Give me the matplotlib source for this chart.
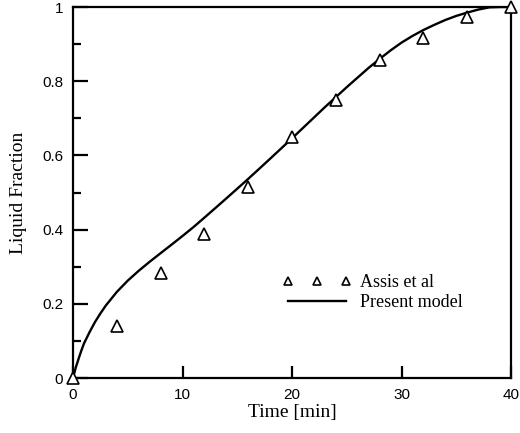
import matplotlib
matplotlib.use("Agg")
import matplotlib.pyplot as plt
from matplotlib.ticker import MultipleLocator, FuncFormatter

# Experimental data (Assis et al)
exp_time = [0, 4, 8, 12, 16, 20, 24, 28, 32, 36, 40]
exp_frac = [0.0, 0.14, 0.283, 0.388, 0.516, 0.650, 0.749, 0.856, 0.916, 0.973, 1.0]

# Present model curve
model_time = [0, 0.25, 0.5, 0.75, 1, 1.5, 2, 2.5, 3, 4, 5, 6, 7, 8, 9, 10, 11,
              12, 13, 14, 15, 16, 17, 18, 19, 20, 21, 22, 23, 24, 25, 26, 27,
              28, 29, 30, 31, 32, 33, 34, 35, 36, 37, 38, 39, 40]
model_frac = [0.0, 0.028, 0.051, 0.073, 0.093, 0.123, 0.1505, 0.174, 0.1955,
              0.232, 0.2625, 0.289, 0.3133, 0.3365, 0.3595, 0.3828, 0.4068,
              0.4323, 0.4581, 0.4841, 0.5103, 0.5368, 0.5638, 0.591, 0.6185,
              0.646, 0.674, 0.702, 0.73, 0.757, 0.784, 0.81, 0.836, 0.86,
              0.883, 0.904, 0.922, 0.938, 0.952, 0.965, 0.976, 0.985, 0.993,
              0.999, 1.0, 1.0]

fig = plt.figure(figsize=(5.2, 4.33), dpi=100)
ax = fig.add_axes([0.1404, 0.127, 0.8423, 0.8568])

ax.plot(model_time, model_frac, color="black", lw=1.7, label="Present model", zorder=2)
ax.plot(exp_time, exp_frac, linestyle="none", marker="^", markersize=8,
        markerfacecolor="white", markeredgecolor="black", markeredgewidth=1.2,
        label="Assis et al", clip_on=False, zorder=3)

ax.set_xlim(0, 40)
ax.set_ylim(0, 1)
ax.xaxis.set_major_locator(MultipleLocator(10))
ax.yaxis.set_major_locator(MultipleLocator(0.2))
ax.yaxis.set_minor_locator(MultipleLocator(0.1))
ax.yaxis.set_major_formatter(FuncFormatter(lambda v, p: ("%g" % round(v, 2))))

for s in ax.spines.values():
    s.set_linewidth(1.6)

ax.tick_params(axis="both", which="both", direction="in", top=False, right=False,
               labelsize=11, width=1.6)
ax.tick_params(axis="y", which="major", length=11, pad=7)
ax.tick_params(axis="y", which="minor", length=5.5)
ax.tick_params(axis="x", which="major", length=9, pad=7)
for lab in ax.get_xticklabels() + ax.get_yticklabels():
    lab.set_fontfamily("Liberation Sans")

ax.set_xlabel("Time [min]", fontfamily="Liberation Serif", fontsize=14, labelpad=1.5)
ax.set_ylabel("Liquid Fraction", fontfamily="Liberation Serif", fontsize=14, labelpad=11)

handles, labels = ax.get_legend_handles_labels()
leg = ax.legend(handles[::-1], labels[::-1], loc="center left",
                bbox_to_anchor=(0.479, 0.23), frameon=False, numpoints=3,
                markerscale=0.7, handlelength=3.8, handletextpad=0.45,
                labelspacing=0.2, borderpad=0, borderaxespad=0,
                prop={"family": "Liberation Serif", "size": 13})

fig.savefig("out.png", dpi=100)
